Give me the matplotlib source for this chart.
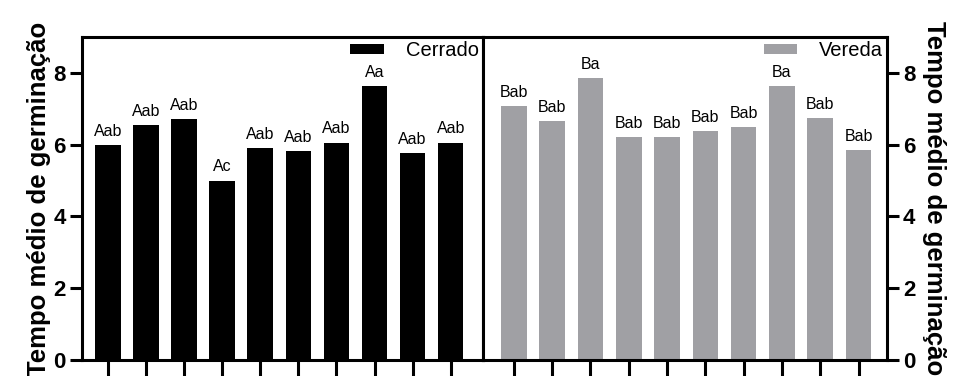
import matplotlib.pyplot as plt
import numpy as np

plt.rcParams['font.family'] = ['Liberation Sans', 'DejaVu Sans']

# Tempo médio de germinação por tratamento
cerrado = [6.0, 6.54, 6.71, 5.0, 5.9, 5.83, 6.06, 7.64, 5.77, 6.06]
vereda = [7.08, 6.65, 7.86, 6.2, 6.2, 6.38, 6.5, 7.64, 6.75, 5.86]

cerrado_letras = ['Aab', 'Aab', 'Aab', 'Ac', 'Aab', 'Aab', 'Aab', 'Aa', 'Aab', 'Aab']
vereda_letras = ['Bab', 'Bab', 'Ba', 'Bab', 'Bab', 'Bab', 'Bab', 'Ba', 'Bab', 'Bab']

ylabel = 'Tempo médio de germinação'
preto = '#000000'
cinza = '#a0a0a4'

fig = plt.figure(figsize=(9.62, 3.76), dpi=100)
ax1 = fig.add_axes([0.0852, 0.0426, 0.4166, 0.859])
ax2 = fig.add_axes([0.5018, 0.0426, 0.4202, 0.859])

x = np.arange(len(cerrado))
lw = 2.2


def painel(ax, valores, letras, cor, nome, xlim, lado):
    ax.bar(x, valores, width=0.67, color=cor, label=nome, zorder=2)
    for xi, v, t in zip(x, valores, letras):
        ax.text(xi, v + 0.17, t, ha='center', va='bottom', fontsize=11.5)
    ax.set_xlim(*xlim)
    ax.set_ylim(0, 9)
    ax.set_yticks([0, 2, 4, 6, 8])
    ax.set_xticks(x)
    ax.set_xticklabels([])
    ax.yaxis.set_ticks_position(lado)
    ax.yaxis.set_label_position(lado)
    ax.tick_params(axis='x', direction='out', length=14, width=lw)
    ax.tick_params(axis='y', direction='out', length=8.5, width=lw,
                   labelsize=16, pad=3)
    for tk in ax.yaxis.get_major_ticks():
        tk.label1.set_fontweight('bold')
        tk.label2.set_fontweight('bold')
    for s in ax.spines.values():
        s.set_linewidth(lw)
    ax.legend(loc='upper right', frameon=False, fontsize=14.5,
              handlelength=1.65, handleheight=0.4, handletextpad=1.1,
              borderaxespad=0.1, borderpad=0.1)


painel(ax1, cerrado, cerrado_letras, preto, 'Cerrado', (-0.68, 9.84), 'left')
painel(ax2, vereda, vereda_letras, cinza, 'Vereda', (-0.81, 9.74), 'right')

ax1.set_ylabel(ylabel, fontsize=18.5, fontweight='bold', labelpad=2)
ax2.set_ylabel(ylabel, fontsize=18.5, fontweight='bold', rotation=270,
               labelpad=22)

fig.savefig('out.png', dpi=100)
